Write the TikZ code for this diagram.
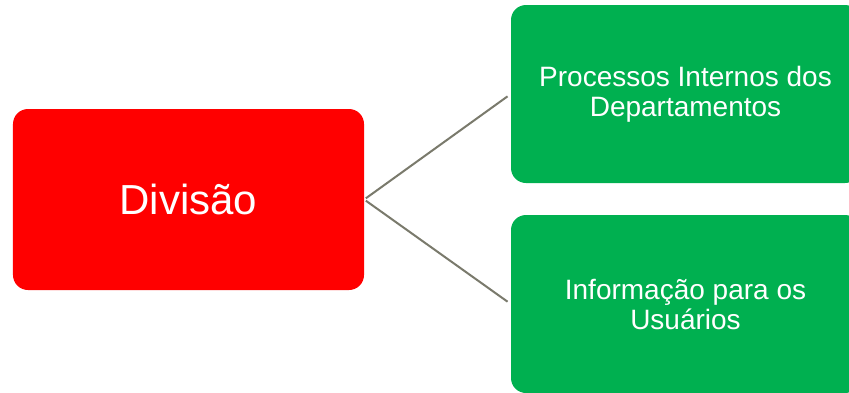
\documentclass[tikz,border=0pt]{standalone}
\usepackage{fontspec}
\setmainfont{Liberation Sans}
\definecolor{boxred}{RGB}{255,0,0}
\definecolor{boxgreen}{RGB}{0,176,80}
\definecolor{linkgray}{RGB}{122,122,108}
\tikzset{
  card/.style={draw=none, rounded corners=15bp, text=white, align=center, inner sep=0pt},
  link/.style={draw=linkgray, line width=2bp}
}
\begin{document}
\begin{tikzpicture}[x=1bp, y=-1bp]
  \useasboundingbox (0,0) rectangle (849,392);
  \clip (0,0) rectangle (849,392);
  \fill[white] (0,0) rectangle (849,392);

  % root box
  \node[card, fill=boxred, minimum width=351bp, minimum height=181bp,
        font=\fontsize{42bp}{46bp}\selectfont] (div) at (188.5,199.5) {Divisão};

  % child boxes (run past the right edge)
  \node[card, fill=boxgreen, minimum width=349bp, minimum height=178bp,
        font=\fontsize{28bp}{30bp}\selectfont] (proc) at (685.5,94)
        {Processos Internos dos\\Departamentos};
  \node[card, fill=boxgreen, minimum width=349bp, minimum height=178bp,
        font=\fontsize{28bp}{30bp}\selectfont] (info) at (685.5,304)
        {Informação para os\\Usuários};

  % connectors
  \draw[link, shorten <=2bp, shorten >=4bp] (div.east) -- (proc.west);
  \draw[link, shorten <=2bp, shorten >=4bp] (div.east) -- (info.west);
\end{tikzpicture}
\end{document}
